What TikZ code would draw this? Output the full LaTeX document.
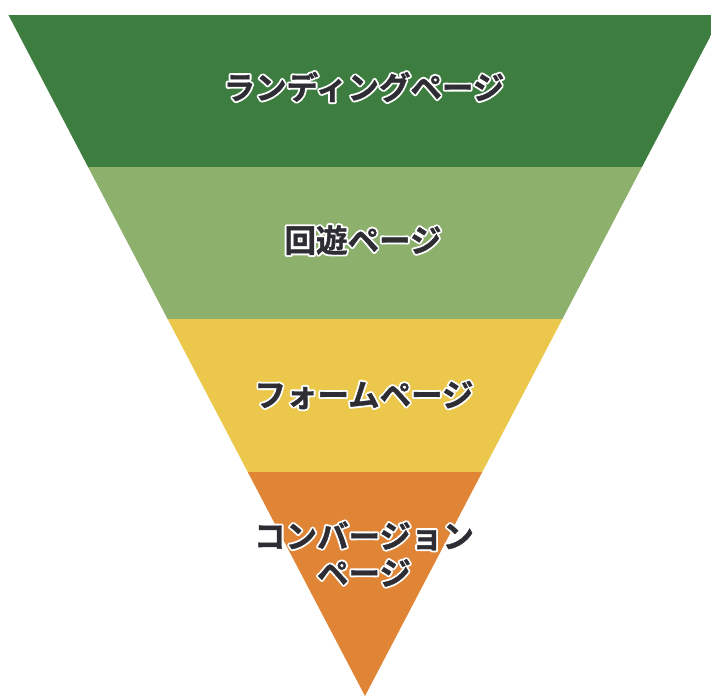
\documentclass[tikz,border=0pt]{standalone}
\usepackage{fontspec}
\newfontfamily\jp{Noto Sans CJK JP Bold}
\newfontfamily\jpheavy{Noto Sans CJK JP Bold}[FakeBold=1.2]
\usetikzlibrary{calc}
\definecolor{bandA}{HTML}{3D7E40}
\definecolor{bandB}{HTML}{8EB06D}
\definecolor{bandC}{HTML}{EBC84B}
\definecolor{bandD}{HTML}{E08436}
\definecolor{txtdark}{HTML}{2D2D33}
\newcommand{\strokeon}{\special{pdf:literal direct 2 Tr 4.2 w 1 j 1 1 1 RG}}
\newcommand{\strokeoff}{\special{pdf:literal direct 0 Tr}}
\tikzset{
  lbl/.style={font=\jpheavy\fontsize{31.5}{37}\selectfont, inner sep=0pt, align=center, text=txtdark},
  halo/.style={font=\jp\fontsize{31.5}{37}\selectfont, inner sep=0pt, align=center, text=white},
}
\newcommand{\haloed}[3]{%
  \node[halo] at (#2) {\strokeon #3\strokeoff};
  \node[lbl] (#1) at (#2) {#3};
}
\begin{document}
\begin{tikzpicture}[x=1pt,y=-1pt]
\useasboundingbox (0,0) rectangle (711,696);
\coordinate (tl) at (8.3,14.7);
\coordinate (tr) at (721.7,14.7);
\coordinate (ap) at (365,696);
\begin{scope}
  \clip (0,0) rectangle (711,696);
  \clip (tl) -- (tr) -- (ap) -- cycle;
  \fill[bandA] (0,14.7) rectangle (711,167.2);
  \fill[bandB] (0,167) rectangle (711,319.5);
  \fill[bandC] (0,319.3) rectangle (711,472.2);
  \fill[bandD] (0,472) rectangle (711,696);
\end{scope}
\coordinate (c1) at (364,87);
\coordinate (c2) at (363,240);
\coordinate (c3) at (364,395);
\coordinate (c4) at (364,554);
\haloed{t1}{c1}{ランディングページ}
\haloed{t2}{c2}{回遊ページ}
\haloed{t3}{c3}{フォームページ}
\node[halo] at (c4) {\strokeon コンバージョン\\\strokeon ページ\strokeoff};
\node[lbl] (t4) at (c4) {コンバージョン\\ページ};
\end{tikzpicture}
\end{document}
